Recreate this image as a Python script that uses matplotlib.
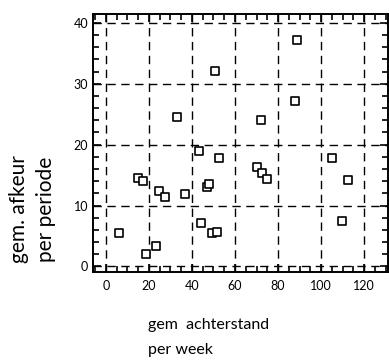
import matplotlib
matplotlib.use("Agg")
import matplotlib.pyplot as plt
from matplotlib.ticker import MultipleLocator

achterstand = [6.0, 15.0, 17.2, 18.5, 23.4, 24.8, 27.6, 36.7, 43.4, 44.0, 46.8, 47.9,
               49.3, 51.5, 52.6, 70.1, 72.4, 74.7, 105.0, 109.8, 112.4,
               88.7, 50.7, 32.9, 72.0, 87.9]
afkeur = [5.4, 14.5, 14.0, 2.0, 3.4, 12.4, 11.4, 11.9, 19.0, 7.2, 13.1, 13.6,
          5.4, 5.7, 17.8, 16.3, 15.3, 14.3, 17.8, 7.4, 14.2,
          37.2, 32.1, 24.5, 24.1, 27.2]
xticks = [0, 20, 40, 60, 80, 100, 120]
yticks = [0, 10, 20, 30, 40]

plt.rcParams['font.family'] = ['Lato', 'DejaVu Sans']

fig = plt.figure(figsize=(3.89, 3.61), dpi=100)
ax = fig.add_axes([0.239, 0.247, 0.758, 0.713])

ax.scatter(achterstand, afkeur, marker='s', s=32, facecolors='white',
           edgecolors='black', linewidths=1.2, zorder=3)

ax.set_xlim(-6, 131)
ax.set_ylim(-0.9, 41.4)
ax.set_xticks(xticks)
ax.set_yticks(yticks)
ax.xaxis.set_minor_locator(MultipleLocator(5))
ax.yaxis.set_minor_locator(MultipleLocator(2))
ax.tick_params(which='both', direction='in', top=True, right=True, labelsize=9,
               width=1.2, color='black')
ax.tick_params(which='major', length=6)
ax.tick_params(which='minor', length=4)
ax.tick_params(axis='x', pad=6)
ax.grid(True, which='major', linestyle=(0, (6, 4)), color='black', linewidth=1.0)
for s in ax.spines.values():
    s.set_linewidth(1.4)

fig.text(0.048, 0.42, "gem. afkeur", rotation=90, ha='center', va='center',
         fontsize=15)
fig.text(0.118, 0.42, "per periode", rotation=90, ha='center', va='center',
         fontsize=15)
fig.text(0.38, 0.10, "gem  achterstand", ha='left', va='center', fontsize=11.5)
fig.text(0.38, 0.03, "per week", ha='left', va='center', fontsize=11.5)

fig.savefig("out.png", dpi=100)
